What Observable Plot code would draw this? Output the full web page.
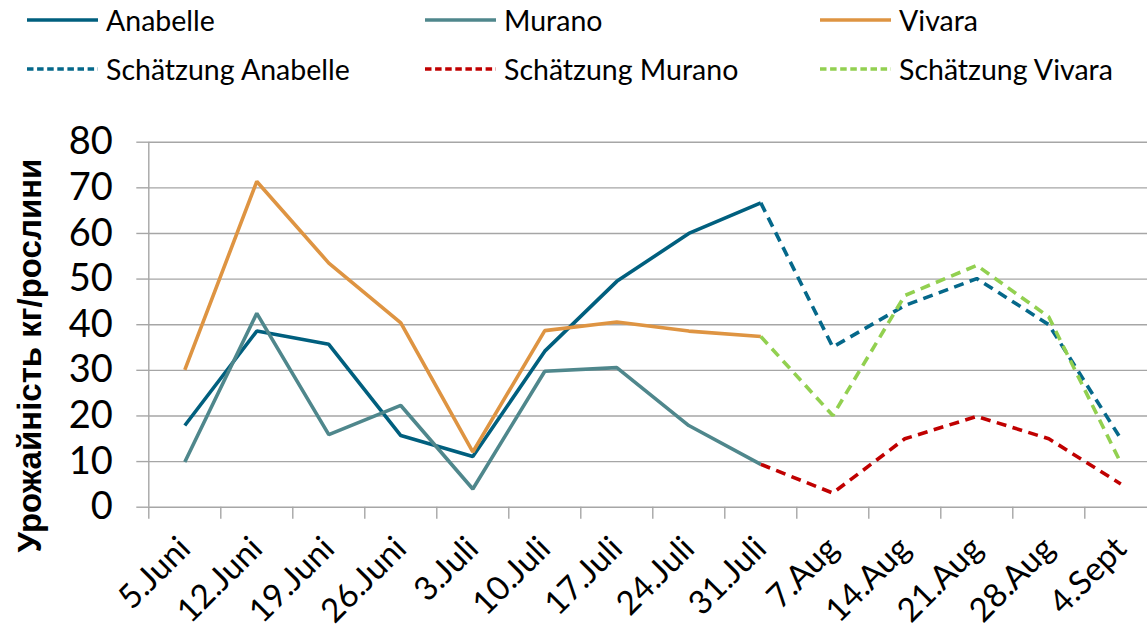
<!DOCTYPE html>
<html>
<head>
<meta charset="utf-8">
<script src="https://cdn.jsdelivr.net/npm/d3@7"></script>
<script src="https://cdn.jsdelivr.net/npm/@observablehq/plot@0.6"></script>
<style>
  html, body { margin: 0; padding: 0; background: #fff; overflow: hidden; }
  #wrap { width: 1147px; height: 637px; position: relative; font-family: Lato, "Open Sans", sans-serif; }
  #legend { position: relative; width: 1147px; height: 100px; }
  .item { position: absolute; display: flex; align-items: center; font-size: 28.5px; color: #000; white-space: nowrap; transform: translateY(-50%); }
  .item svg { margin-right: 8px; }
  #chart svg { display: block; overflow: visible; }
</style>
</head>
<body>
<div id="wrap">
  <div id="legend"></div>
  <div id="chart"></div>
</div>
<script>
const categories = ["5.Juni","12.Juni","19.Juni","26.Juni","3.Juli","10.Juli","17.Juli","24.Juli","31.Juli","7.Aug","14.Aug","21.Aug","28.Aug","4.Sept"];
const anabelle   = [17.9, 38.6, 35.7, 15.7, 11.1, 34.2, 49.5, 60.0, 66.7, null, null, null, null, null];
const murano     = [9.9, 42.5, 15.9, 22.3, 4.0, 29.8, 30.6, 17.9, 9.4, null, null, null, null, null];
const vivara     = [30.1, 71.4, 53.5, 40.4, 12.1, 38.7, 40.6, 38.6, 37.4, null, null, null, null, null];
const schAnabelle = [null, null, null, null, null, null, null, null, 66.7, 35.1, 44.2, 50.1, 40.0, 15.0];
const schMurano   = [null, null, null, null, null, null, null, null, 9.4, 3.1, 15.0, 19.9, 15.0, 5.1];
const schVivara   = [null, null, null, null, null, null, null, null, 37.4, 20.1, 46.4, 53.0, 41.7, 9.7];
const yTicks = [0, 10, 20, 30, 40, 50, 60, 70, 80];
const yTitle = "Урожайність кг/рослини";

const series = [
  {name: "Anabelle", values: anabelle, color: "#005f7e", dash: null},
  {name: "Murano", values: murano, color: "#4f878c", dash: null},
  {name: "Vivara", values: vivara, color: "#de9442", dash: null},
  {name: "Schätzung Anabelle", values: schAnabelle, color: "#05688a", dash: "10,6.5"},
  {name: "Schätzung Murano", values: schMurano, color: "#c00000", dash: "10,6.5"},
  {name: "Schätzung Vivara", values: schVivara, color: "#92d050", dash: "10,6.5"}
];

// Legend
const legendPos = [[27, 20], [425, 20], [820, 20], [27, 69], [425, 69], [820, 69]];
const legend = document.getElementById("legend");
series.forEach((s, k) => {
  const div = document.createElement("div");
  div.className = "item";
  div.style.left = legendPos[k][0] + "px";
  div.style.top = legendPos[k][1] + "px";
  div.innerHTML = `<svg width="71" height="10"><line x1="0" x2="71" y1="5" y2="5" stroke="${s.color}" stroke-width="3.6" ${s.dash ? 'stroke-dasharray="6.5,3.6"' : ''}/></svg><span>${s.name}</span>`;
  legend.appendChild(div);
});

const gridColor = "#a6a6a6";
const lineMarks = series.map(s => {
  const rows = s.values.map((v, i) => ({i, v})).filter(d => d.v != null);
  return Plot.line(rows, {
    x: d => d.i + 0.5, y: "v",
    stroke: s.color, strokeWidth: 3.6,
    strokeDasharray: s.dash || undefined,
    strokeLinejoin: "miter", strokeLinecap: "butt"
  });
});

const chart = Plot.plot({
  width: 1147,
  height: 537,
  marginTop: 41.7,
  marginBottom: 130.3,
  marginLeft: 148.3,
  marginRight: -9.3,
  style: {fontFamily: "Lato, 'Open Sans', sans-serif", color: "#000", background: "transparent"},
  x: {type: "linear", domain: [0, categories.length]},
  y: {type: "linear", domain: [0, 80]},
  marks: [
    Plot.ruleY(yTicks, {stroke: gridColor, strokeWidth: 1.4}),
    Plot.axisY({ticks: yTicks, tickSize: 12, tickPadding: 24, stroke: gridColor, strokeWidth: 1.4, fontSize: 38, label: null, tickFormat: d => String(d)}),
    Plot.ruleX([0], {y1: 0, y2: 80, stroke: gridColor, strokeWidth: 1.4}),
    Plot.axisX({ticks: d3.range(0, categories.length), tickSize: 12, stroke: gridColor, strokeWidth: 1.4, tickFormat: () => "", label: null}),
    Plot.axisX({ticks: d3.range(0, categories.length).map(i => i + 0.5), tickSize: 0, tickPadding: 36, tickRotate: -45, fontSize: 33, tickFormat: d => categories[Math.floor(d)], label: null}),
    Plot.text([yTitle], {frameAnchor: "left", textAnchor: "middle", rotate: -90, dx: -118.3, dy: 30.8, fontSize: 33, fontWeight: "bold", fontFamily: "'Liberation Sans', Arial, sans-serif", fill: "#000"}),
    ...lineMarks
  ]
});
document.getElementById("chart").appendChild(chart);
</script>
</body>
</html>
